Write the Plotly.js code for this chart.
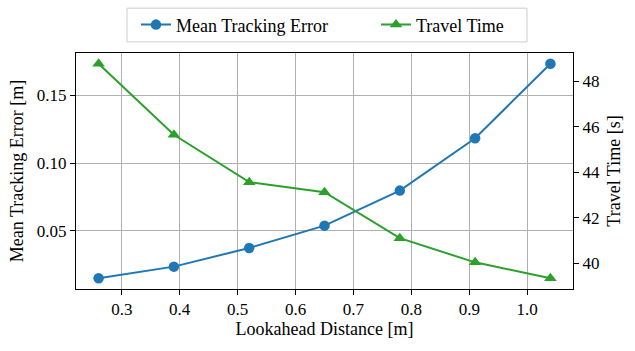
<!DOCTYPE html>
<html>
<head>
<meta charset="utf-8">
<script src="https://cdn.plot.ly/plotly-3.0.1.min.js"></script>
<style>
  html, body { margin: 0; padding: 0; background: #fff; }
  #chart { width: 635px; height: 351px; }
</style>
</head>
<body>
<div id="chart"></div>
<script>
const lookahead = [0.26, 0.39, 0.52, 0.65, 0.78, 0.91, 1.04];
const trackingError = [0.0148, 0.0234, 0.0372, 0.0537, 0.0796, 0.1183, 0.1734];
const travelTime = [48.76, 45.64, 43.56, 43.12, 41.10, 40.04, 39.34];

const FONT = 'Liberation Serif';
const BLUE = '#1f77b4';
const GREEN = '#2ca02c';

// matplotlib style 5% padding around the data
function padRange(values) {
  const lo = Math.min(...values);
  const hi = Math.max(...values);
  const pad = (hi - lo) * 0.05;
  return [lo - pad, hi + pad];
}

const traces = [
  {
    x: lookahead,
    y: trackingError,
    name: 'Mean Tracking Error',
    type: 'scatter',
    mode: 'lines+markers',
    line: { color: BLUE, width: 2 },
    marker: { color: BLUE, size: 10.5, symbol: 'circle' },
    yaxis: 'y',
    legend: 'legend',
  },
  {
    x: lookahead,
    y: travelTime,
    name: 'Travel Time',
    type: 'scatter',
    mode: 'lines+markers',
    line: { color: GREEN, width: 2 },
    marker: { color: GREEN, size: 11, symbol: 'triangle-up' },
    yaxis: 'y2',
    legend: 'legend2',
  },
];

const tickFont = { family: FONT, size: 17, color: '#000' };
const titleFont = { family: FONT, size: 18, color: '#000' };

const axisCommon = {
  showline: true,
  linecolor: '#000',
  linewidth: 1,
  ticks: 'outside',
  ticklen: 5,
  tickwidth: 1,
  tickcolor: '#000',
  tickfont: tickFont,
  zeroline: false,
};

const legendCommon = {
  orientation: 'h',
  xanchor: 'left',
  y: 1.119,
  yanchor: 'middle',
  bgcolor: 'rgba(0,0,0,0)',
  borderwidth: 0,
  font: titleFont,
};

const layout = {
  width: 635,
  height: 351,
  margin: { l: 76, r: 62, t: 53, b: 62, autoexpand: false },
  paper_bgcolor: '#fff',
  plot_bgcolor: '#fff',
  font: { family: FONT, size: 17, color: '#000' },
  showlegend: true,
  legend: { ...legendCommon, x: 0.1207 },
  legend2: { ...legendCommon, x: 0.6036 },
  // legend frame spanning both entries
  shapes: [{
    type: 'rect',
    xref: 'paper',
    yref: 'paper',
    x0: 0.1026,
    x1: 0.9074,
    y0: 1.047,
    y1: 1.19,
    line: { color: '#cccccc', width: 1 },
    fillcolor: 'rgba(255,255,255,0.8)',
    layer: 'above',
  }],
  xaxis: {
    ...axisCommon,
    mirror: true,
    range: padRange(lookahead),
    dtick: 0.1,
    tick0: 0,
    tickformat: '.1f',
    showgrid: true,
    gridcolor: '#b0b0b0',
    gridwidth: 1,
    title: { text: 'Lookahead Distance [m]', font: titleFont, standoff: 3 },
  },
  yaxis: {
    ...axisCommon,
    mirror: true,
    range: padRange(trackingError),
    dtick: 0.05,
    tick0: 0,
    tickformat: '.2f',
    showgrid: true,
    gridcolor: '#b0b0b0',
    gridwidth: 1,
    title: { text: 'Mean Tracking Error [m]', font: titleFont, standoff: 8 },
  },
  yaxis2: {
    ...axisCommon,
    overlaying: 'y',
    side: 'right',
    range: padRange(travelTime),
    dtick: 2,
    tick0: 0,
    showgrid: false,
    title: { text: 'Travel Time [s]', font: titleFont, standoff: 8 },
  },
};

Plotly.newPlot('chart', traces, layout, { displayModeBar: false, staticPlot: true });
</script>
</body>
</html>
